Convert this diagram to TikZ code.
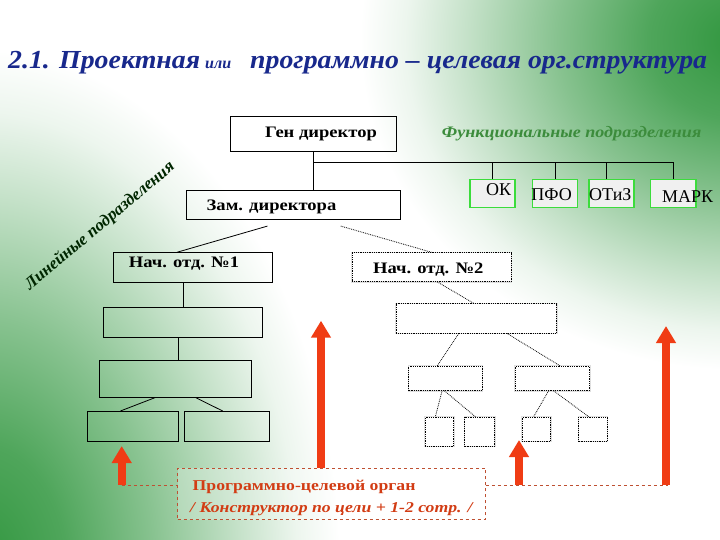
\documentclass[tikz,border=0pt]{standalone}
\usepackage{fontspec}
\setmainfont{Liberation Serif}
\usetikzlibrary{arrows.meta}

\definecolor{titleblue}{RGB}{24,40,140}
\definecolor{bggreen}{RGB}{48,150,62}
\definecolor{funcgreen}{RGB}{60,140,60}
\definecolor{boxgreen}{RGB}{60,220,60}
\definecolor{goalred}{RGB}{240,60,20}
\definecolor{goaltext}{RGB}{210,60,20}
\definecolor{dashred}{RGB}{190,80,50}

\pgfdeclareradialshading{bgglow}{\pgfpoint{0bp}{0bp}}{color(0bp)=(bggreen);
  color(6bp)=(bggreen!85!white); color(12bp)=(bggreen!58!white);
  color(18bp)=(bggreen!28!white); color(22bp)=(bggreen!9!white);
  color(25bp)=(white); color(50bp)=(white)}

\tikzset{
  linebox/.style={draw=black, line width=0.8pt, inner sep=0pt, anchor=north west},
  dotbox/.style={draw=black, densely dotted, line width=0.8pt, fill=white, inner sep=0pt,
    anchor=north west, preaction={draw=black!12, solid, line width=2.4pt}},
  funcbox/.style={draw=boxgreen, line width=1.2pt, fill=black!6, inner sep=0pt, anchor=north west},
  boxtext/.style={font=\bfseries\fontsize{16}{16}\selectfont\addfontfeature{FakeStretch=1.16}},
  functext/.style={font=\fontsize{18}{18}\selectfont},
  goalfont/.style={font=\bfseries\fontsize{15}{15}\selectfont\addfontfeature{FakeStretch=1.18}},
  goalitalic/.style={font=\bfseries\itshape\fontsize{15}{15}\selectfont\addfontfeature{FakeStretch=1.18}},
  titlefont/.style={font=\bfseries\itshape\fontsize{26}{26}\selectfont\addfontfeature{FakeStretch=1.07}},
  conn/.style={draw=black, line width=0.8pt},
  dotconn/.style={draw=black, densely dotted, line width=0.8pt},
  goalarrow/.style={draw=goalred, line width=8pt, -{Triangle[width=19pt,length=17pt]}},
  goalline/.style={draw=dashred, dashed, line width=0.8pt},
}

\begin{document}
\begin{tikzpicture}[x=1pt, y=-1pt]
		%%%%% BACKGROUND %%%%%
		\useasboundingbox (0,0) rectangle (720,540);
		\fill[white] (0,0) rectangle (720,540);
		\begin{scope}
			\clip (0,0) rectangle (720,540);
			\shade[shading=bgglow] (-20,570) ellipse [x radius=360, y radius=520];
			\shade[shading=bgglow] (740,40) ellipse [x radius=380, y radius=330];
		\end{scope}
		
		%%%%% TITLE %%%%%
		\node[anchor=base west, text=titleblue, titlefont, inner sep=0pt] (title1) at (8,69) {2.1. Проектная};
		\node[anchor=base west, text=titleblue, font=\bfseries\itshape\fontsize{16}{16}\selectfont, inner sep=0pt] (title2) at (205,69) {или};
		\node[anchor=base west, text=titleblue, titlefont, inner sep=0pt] (title3) at (250,69) {программно – целевая орг.структура};
		
		%%%%% LINE STRUCTURE %%%%%
		\node[linebox, minimum width=166, minimum height=35] (gen) at (230,116) {};
		\node[boxtext] (gentext) at (321,134) {Ген директор};
		\node[linebox, minimum width=214, minimum height=29.3] (zam) at (186,190) {};
		\node[boxtext] (zamtext) at (271.5,206.7) {Зам. директора};
		\node[linebox, minimum width=158.4, minimum height=29.4] (nach1) at (113.3,252.3) {};
		\node[boxtext] (nach1text) at (184,264) {Нач. отд. №1};
		\node[linebox, minimum width=159, minimum height=29.4] (b1) at (103.3,307.3) {};
		\node[linebox, minimum width=151.4, minimum height=36.7] (b2) at (99.3,360) {};
		\node[linebox, minimum width=91, minimum height=29.7] (b3a) at (87.3,411) {};
		\node[linebox, minimum width=85, minimum height=29.7] (b3b) at (184.3,411) {};
		
		\node[font=\bfseries\itshape\fontsize{17}{17}\selectfont, text=black!85!green, rotate=40, inner sep=0pt] (linetext) at (100,226) {Линейные подразделения};
		
		%%%%% FUNCTIONAL %%%%%
		\node[anchor=base west, text=funcgreen, font=\bfseries\itshape\fontsize{16}{16}\selectfont\addfontfeature{FakeStretch=1.13}, inner sep=0pt] (functitle) at (441.7,138) {Функциональные подразделения};
		\coordinate (bus) at (0,162.3);
		\node[funcbox, minimum width=45, minimum height=28.3] (ok) at (469.3,179) {};
		\node[funcbox, minimum width=44.7, minimum height=28.3] (pfo) at (532,179) {};
		\node[funcbox, minimum width=45, minimum height=28.3] (otiz) at (588.3,179) {};
		\node[funcbox, minimum width=45.3, minimum height=28.3] (mark) at (650,179) {};
		\node[functext] (oktext) at (498.7,190) {ОК};
		\node[functext] (pfotext) at (551.7,195) {ПФО};
		\node[functext] (otiztext) at (610.3,195) {ОТиЗ};
		\node[functext] (marktext) at (687.7,197) {МАРК};
		
		\draw[conn] (gen.south) -- (gen.south |- zam.north);
		\draw[conn] (gen.south |- bus) -| (mark.north);
		\draw[conn] (bus -| ok.north) -- (ok.north);
		\draw[conn] (bus -| pfo.north) -- (pfo.north);
		\draw[conn] ([xshift=-5pt]bus -| otiz.north) -- ([xshift=-5pt]otiz.north);
		
		\draw[conn] ([xshift=-26pt,yshift=-6pt]zam.south) -- ([xshift=-16pt]nach1.north);
		\draw[conn] (b1.north |- nach1.south) -- (b1.north);
		\draw[conn] ([xshift=3pt]b2.north |- b1.south) -- ([xshift=3pt]b2.north);
		\draw[conn] ([xshift=-20pt]b2.south) -- ([xshift=-12.8pt]b3a.north);
		\draw[conn] ([xshift=20pt]b2.south) -- ([xshift=-4.5pt]b3b.north);
		
		%%%%% PROGRAMME STRUCTURE %%%%%
		\node[dotbox, minimum width=159, minimum height=28.7] (nach2) at (351.7,252.3) {};
		\node[boxtext] (nach2text) at (428.3,269.3) {Нач. отд. №2};
		\node[dotbox, minimum width=160, minimum height=29.4] (r1) at (396,303.3) {};
		\node[dotbox, minimum width=73.4, minimum height=24] (r2a) at (408.3,366) {};
		\node[dotbox, minimum width=74.3, minimum height=24] (r2b) at (515,366) {};
		\node[dotbox, minimum width=28.3, minimum height=29] (r3a) at (425,416.7) {};
		\node[dotbox, minimum width=29.7, minimum height=29] (r3b) at (464.3,416.7) {};
		\node[dotbox, minimum width=28.3, minimum height=24] (r3c) at (521.7,416.7) {};
		\node[dotbox, minimum width=28.4, minimum height=24] (r3d) at (578.3,416.7) {};
		
		\draw[dotconn] ([xshift=-60pt,yshift=-6pt]zam.south east) -- (nach2.north);
		\draw[dotconn] ([xshift=5.5pt]nach2.south) -- ([xshift=-2.7pt]r1.north);
		\draw[dotconn] ([xshift=-17.7pt]r1.south) -- ([xshift=-8.3pt]r2a.north);
		\draw[dotconn] ([xshift=30.7pt]r1.south) -- ([xshift=7.8pt]r2b.north);
		\draw[dotconn] ([xshift=-3.3pt]r2a.south) -- ([xshift=-4.2pt]r3a.north);
		\draw[dotconn] ([xshift=-1pt]r2a.south) -- ([xshift=-4.2pt]r3b.north);
		\draw[dotconn] ([xshift=-3.9pt]r2b.south) -- ([xshift=-2.6pt]r3c.north);
		\draw[dotconn] ([xshift=1.1pt]r2b.south) -- ([xshift=-4.2pt]r3d.north);
		
		%%%%% GOAL BODY %%%%%
		\node[draw=dashred, dashed, line width=0.8pt, fill=white, fill opacity=0.25, inner sep=0pt, anchor=north west, minimum width=307.7, minimum height=51.6] (goal) at (177.3,467.7) {};
		\node[anchor=base west, text=goaltext, goalfont, inner sep=0pt] (goaltext1) at (192.5,490) {Программно-целевой орган};
		\node[anchor=base west, text=goaltext, goalitalic, inner sep=0pt] (goaltext2) at (190,512) {/ Конструктор по цели + 1-2 сотр. /};
		
		\coordinate (a1base) at (121.7,485);
		\coordinate (a1tip) at (121.7,446);
		\coordinate (a2tip) at (321,320.7);
		\coordinate (a3base) at (519,485);
		\coordinate (a3tip) at (519,440);
		\coordinate (a4base) at (666,485);
		\coordinate (a4tip) at (666,326);
		\coordinate (lineend) at (668,485);
		
		\draw[goalline] (a1base) -- (a1base -| goal.west);
		\draw[goalline] (a1base -| goal.east) -- (lineend);
		\draw[goalarrow] (a1base) -- (a1tip);
		\draw[goalarrow] (goal.north -| a2tip) -- (a2tip);
		\draw[goalarrow] (a3base) -- (a3tip);
		\draw[goalarrow] (a4base) -- (a4tip);
		
		%%%%% END %%%%%
\end{tikzpicture}
\end{document}
